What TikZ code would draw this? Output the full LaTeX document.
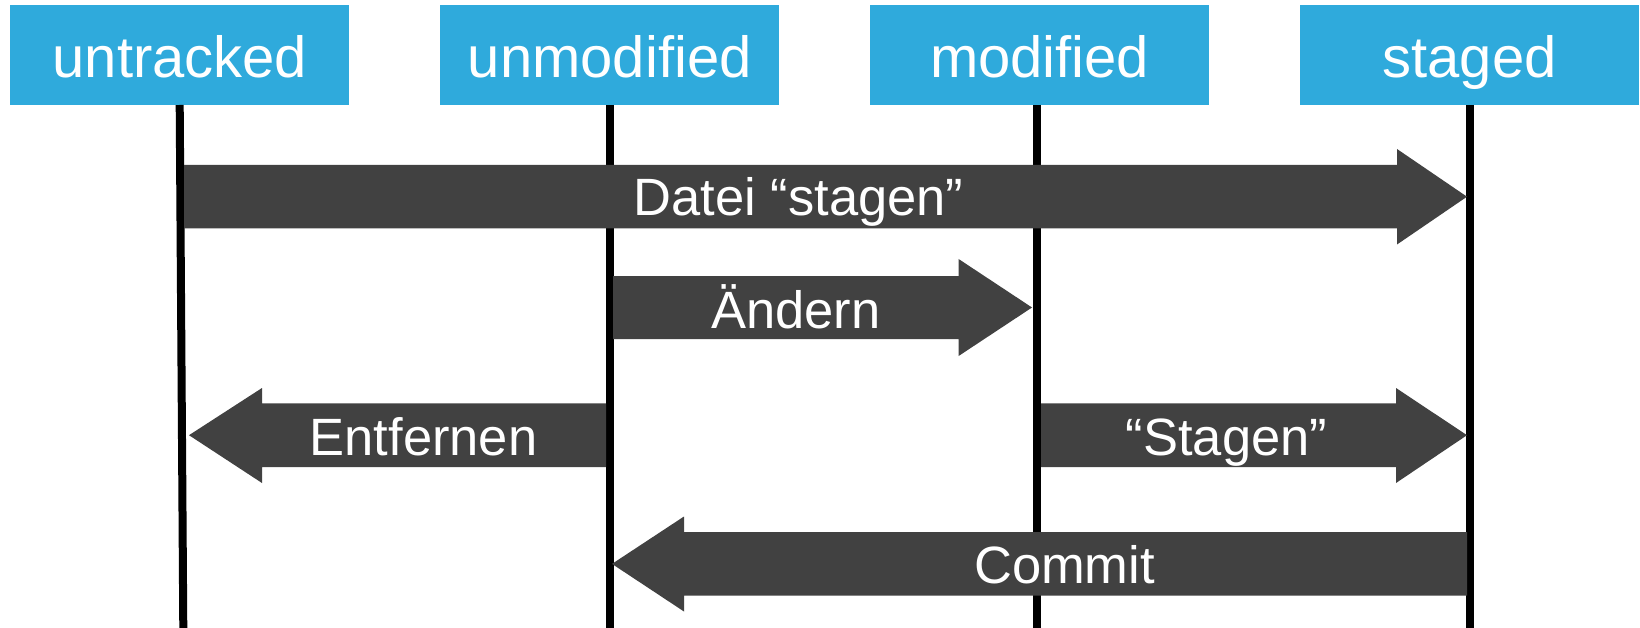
\documentclass[tikz,border=0pt]{standalone}
\usepackage{fontspec}
\setmainfont{Liberation Sans}
\definecolor{boxblue}{HTML}{2FAADC}
\definecolor{arrowgray}{HTML}{414141}
\begin{document}
\begin{tikzpicture}[x=1pt,y=-1pt,
  statebox/.style={fill=boxblue,text=white,inner sep=0pt,minimum width=339pt,
    text height=72pt,text depth=28pt,anchor=north,font=\fontsize{58}{60}\selectfont},
  lifeline/.style={line width=8pt,black},
  bigarrow/.style={fill=arrowgray},
  arrowlabel/.style={text=white,inner sep=0pt,anchor=base,font=\fontsize{52.5}{54}\selectfont}]
\useasboundingbox (0,0) rectangle (1640,628);
% state boxes
\node[statebox] (u) at (179.9,5) {untracked};
\node[statebox] (um) at (609.7,5) {unmodified};
\node[statebox] (m) at (1039.6,5) {modified};
\node[statebox] (s) at (1469.5,5) {staged};
% lifeline ends
\coordinate (ut) at (179.7,105);  \coordinate (ub) at (183.3,628);
\coordinate (umt) at (610,105);   \coordinate (umb) at (610,628);
\coordinate (mt) at (1036.8,105); \coordinate (mb) at (1036.8,628);
\coordinate (st) at (1470,105);   \coordinate (sb) at (1470,628);
\draw[lifeline] (ut) -- (ub);
\draw[lifeline] (umt) -- (umb);
\draw[lifeline] (mt) -- (mb);
\draw[lifeline] (st) -- (sb);
% arrows
\fill[bigarrow] (184,165) -- (1397,165) -- (1397,149) -- (1467,196.7) -- (1397,244.5) -- (1397,228.3) -- (184,228.3) -- cycle;
\node[arrowlabel] (l1) at (798.5,216) {Datei “stagen”};
\fill[bigarrow] (613,276) -- (958.6,276) -- (958.6,259) -- (1032,307.5) -- (958.6,356) -- (958.6,339) -- (613,339) -- cycle;
\node[arrowlabel] (l2) at (796,328) {Ändern};
\fill[bigarrow] (606,403.3) -- (262,403.3) -- (262,388) -- (189,435.2) -- (262,483) -- (262,467) -- (606,467) -- cycle;
\node[arrowlabel] (l3) at (423.5,455.7) {Entfernen};
\fill[bigarrow] (1041,403.3) -- (1396,403.3) -- (1396,388) -- (1467,435.2) -- (1396,483) -- (1396,467) -- (1041,467) -- cycle;
\node[arrowlabel] (l4) at (1226.5,455.7) {“Stagen”};
\fill[bigarrow] (1467,532) -- (684,532) -- (684,516.5) -- (612,563.9) -- (684,611.5) -- (684,595.7) -- (1467,595.7) -- cycle;
\node[arrowlabel] (l5) at (1064.5,583.3) {Commit};
\end{tikzpicture}
\end{document}
